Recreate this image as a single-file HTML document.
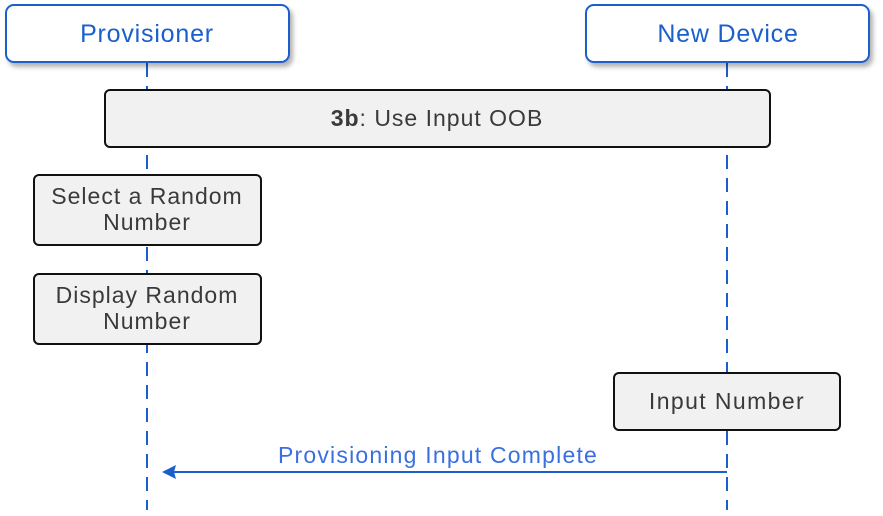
<!DOCTYPE html>
<html><head><meta charset="utf-8"><style>
html,body{margin:0;padding:0;background:#fff;}
svg{display:block;}
text{font-family:"Liberation Sans",sans-serif;}
</style></head><body>
<svg width="883" height="516" viewBox="0 0 883 516" xmlns="http://www.w3.org/2000/svg">
<defs>
<filter id="sh" x="-10%" y="-20%" width="130%" height="160%"><feDropShadow dx="3" dy="4" stdDeviation="2.5" flood-color="#000" flood-opacity="0.3"/></filter>
</defs>
<g stroke="#1a5fcc" stroke-width="2" stroke-dasharray="14,9">
<line x1="147" y1="63" x2="147" y2="510"/>
<line x1="727" y1="63" x2="727" y2="510"/>
</g>
<rect x="6" y="5" width="283" height="57" rx="8" fill="#fff" stroke="#1a5fcc" stroke-width="2" filter="url(#sh)"/>
<rect x="586" y="5" width="283" height="57" rx="8" fill="#fff" stroke="#1a5fcc" stroke-width="2" filter="url(#sh)"/>
<text x="147" y="42" font-size="25" fill="#1a5fcc" text-anchor="middle" letter-spacing="0.8">Provisioner</text>
<text x="728" y="42" font-size="25" fill="#1a5fcc" text-anchor="middle" letter-spacing="0.8">New Device</text>
<g fill="#f1f1f1" stroke="#111" stroke-width="2">
<rect x="105" y="90" width="665" height="57" rx="5"/>
<rect x="34" y="175" width="227" height="70" rx="5"/>
<rect x="34" y="274" width="227" height="70" rx="5"/>
<rect x="614" y="373" width="226" height="57" rx="5"/>
</g>
<g font-size="23" fill="#3a3a3a" text-anchor="middle" letter-spacing="1">
<text x="437" y="126"><tspan font-weight="bold">3b</tspan>: Use Input OOB</text>
<text x="147" y="204">Select a Random</text>
<text x="147" y="230">Number</text>
<text x="147" y="303">Display Random</text>
<text x="147" y="329">Number</text>
<text x="727" y="409" letter-spacing="1.4">Input Number</text>
</g>
<line x1="727" y1="472" x2="172" y2="472" stroke="#1a5fcc" stroke-width="2"/>
<polygon points="162,472 176,465 174,472 176,479" fill="#1a5fcc"/>
<text x="438" y="463" font-size="23" fill="#3a6fe0" text-anchor="middle" letter-spacing="1.2">Provisioning Input Complete</text>
</svg>
</body></html>
